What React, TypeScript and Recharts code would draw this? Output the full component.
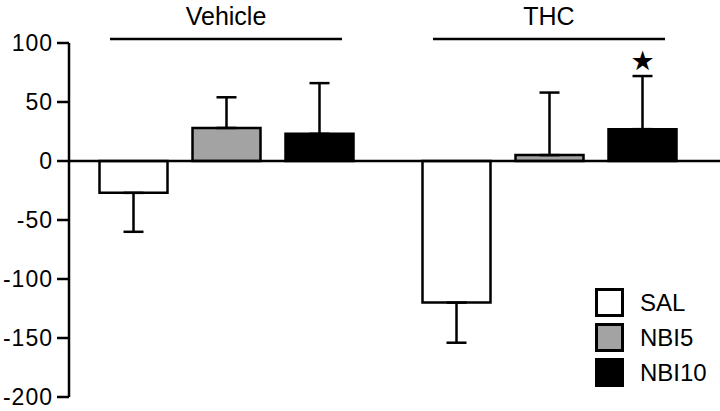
import { BarChart, Bar, XAxis, YAxis, ErrorBar, ReferenceLine, LabelList } from "recharts";

const FONT = "'Liberation Sans', Arial, Helvetica, sans-serif";

// groups along the x axis
const groups = ["Vehicle", "THC"];

// mean change and SEM per treatment, one entry per group
const salMean = [-27, -120];
const salSem = [33, 34];
const nbi5Mean = [28, 5];
const nbi5Sem = [26, 53];
const nbi10Mean = [23, 27];
const nbi10Sem = [43, 45];
const nbi10Star = [false, true];

const seriesNames = ["SAL", "NBI5", "NBI10"];
const seriesFills = ["#ffffff", "#a3a3a3", "#000000"];

const yTicks = [-200, -150, -100, -50, 0, 50, 100];

// error bars only point away from zero
const oneSided = (mean: number, sem: number) => (mean < 0 ? [sem, 0] : [0, sem]);

const data = groups.map((g, i) => ({
	group: g,
	SAL: salMean[i],
	NBI5: nbi5Mean[i],
	NBI10: nbi10Mean[i],
	SALerr: oneSided(salMean[i], salSem[i]),
	NBI5err: oneSided(nbi5Mean[i], nbi5Sem[i]),
	NBI10err: oneSided(nbi10Mean[i], nbi10Sem[i]),
	NBI10star: nbi10Star[i] ? "★" : ""
}));

const GroupTick = (props: any) => {
	const { x, y, payload } = props;
	return (
		<g>
			<text x={x} y={y - 18} textAnchor="middle" fontSize={25} fontFamily={FONT} fill="#000">
				{payload.value}
			</text>
			<line x1={x - 116} x2={x + 116} y1={y - 4} y2={y - 4} stroke="#000" strokeWidth={2.5} />
		</g>
	);
};

const StarLabel = (props: any) => {
	const { x, y, width, height, value, index } = props;
	if (!value) return null;
	const mean = nbi10Mean[index];
	const pxPerUnit = Math.abs(height / mean);
	const capY = y - nbi10Sem[index] * pxPerUnit;
	return (
		<text x={x + width / 2} y={capY - 6} textAnchor="middle" fontSize={27} fontFamily="'DejaVu Sans', sans-serif" fill="#000">
			{value}
		</text>
	);
};

// legend sits inside the plot, bottom right
const LegendBox = () => (
	<div style={{ position: "absolute", left: 595, top: 288, fontFamily: FONT, fontSize: 24, color: "#000" }}>
		{seriesNames.map((name, i) => (
			<div key={name} style={{ display: "flex", alignItems: "center", height: 29, marginBottom: 6 }}>
				<div
					style={{
						width: 29,
						height: 29,
						boxSizing: "border-box",
						border: "3px solid #000",
						background: seriesFills[i]
					}}
				/>
				<span style={{ marginLeft: 16 }}>{name}</span>
			</div>
		))}
	</div>
);

export default function App() {
	return (
		<div style={{ position: "absolute", left: 0, top: 0, width: 720, height: 411, background: "#fff" }}>
			<BarChart
				width={720}
				height={411}
				data={data}
				margin={{ top: 0, right: 0, left: 0, bottom: 14 }}
				barSize={68}
				barGap={25}
			>
				<XAxis
					dataKey="group"
					orientation="top"
					height={43}
					axisLine={false}
					tickLine={false}
					tickSize={0}
					tickMargin={0}
					padding={{ left: -4.5, right: 9.5 }}
					tick={<GroupTick />}
				/>
				<YAxis
					width={69}
					domain={[-200, 100]}
					ticks={yTicks}
					interval={0}
					allowDataOverflow
					axisLine={{ stroke: "#000", strokeWidth: 2.5 }}
					tickLine={{ stroke: "#000", strokeWidth: 2.5 }}
					tickSize={12}
					tickMargin={4}
					tick={{ fill: "#000", fontSize: 23, fontFamily: FONT, letterSpacing: 1 }}
				/>
				<Bar dataKey="SAL" fill={seriesFills[0]} stroke="#000" strokeWidth={2.5} isAnimationActive={false}>
					<ErrorBar dataKey="SALerr" width={10} stroke="#000" strokeWidth={2.5} direction="y" />
				</Bar>
				<Bar dataKey="NBI5" fill={seriesFills[1]} stroke="#000" strokeWidth={2.5} isAnimationActive={false}>
					<ErrorBar dataKey="NBI5err" width={10} stroke="#000" strokeWidth={2.5} direction="y" />
				</Bar>
				<Bar dataKey="NBI10" fill={seriesFills[2]} stroke="#000" strokeWidth={2.5} isAnimationActive={false}>
					<ErrorBar dataKey="NBI10err" width={10} stroke="#000" strokeWidth={2.5} direction="y" />
					<LabelList dataKey="NBI10star" content={<StarLabel />} />
				</Bar>
				<ReferenceLine y={0} stroke="#000" strokeWidth={2.5} />
			</BarChart>
			<LegendBox />
		</div>
	);
}
